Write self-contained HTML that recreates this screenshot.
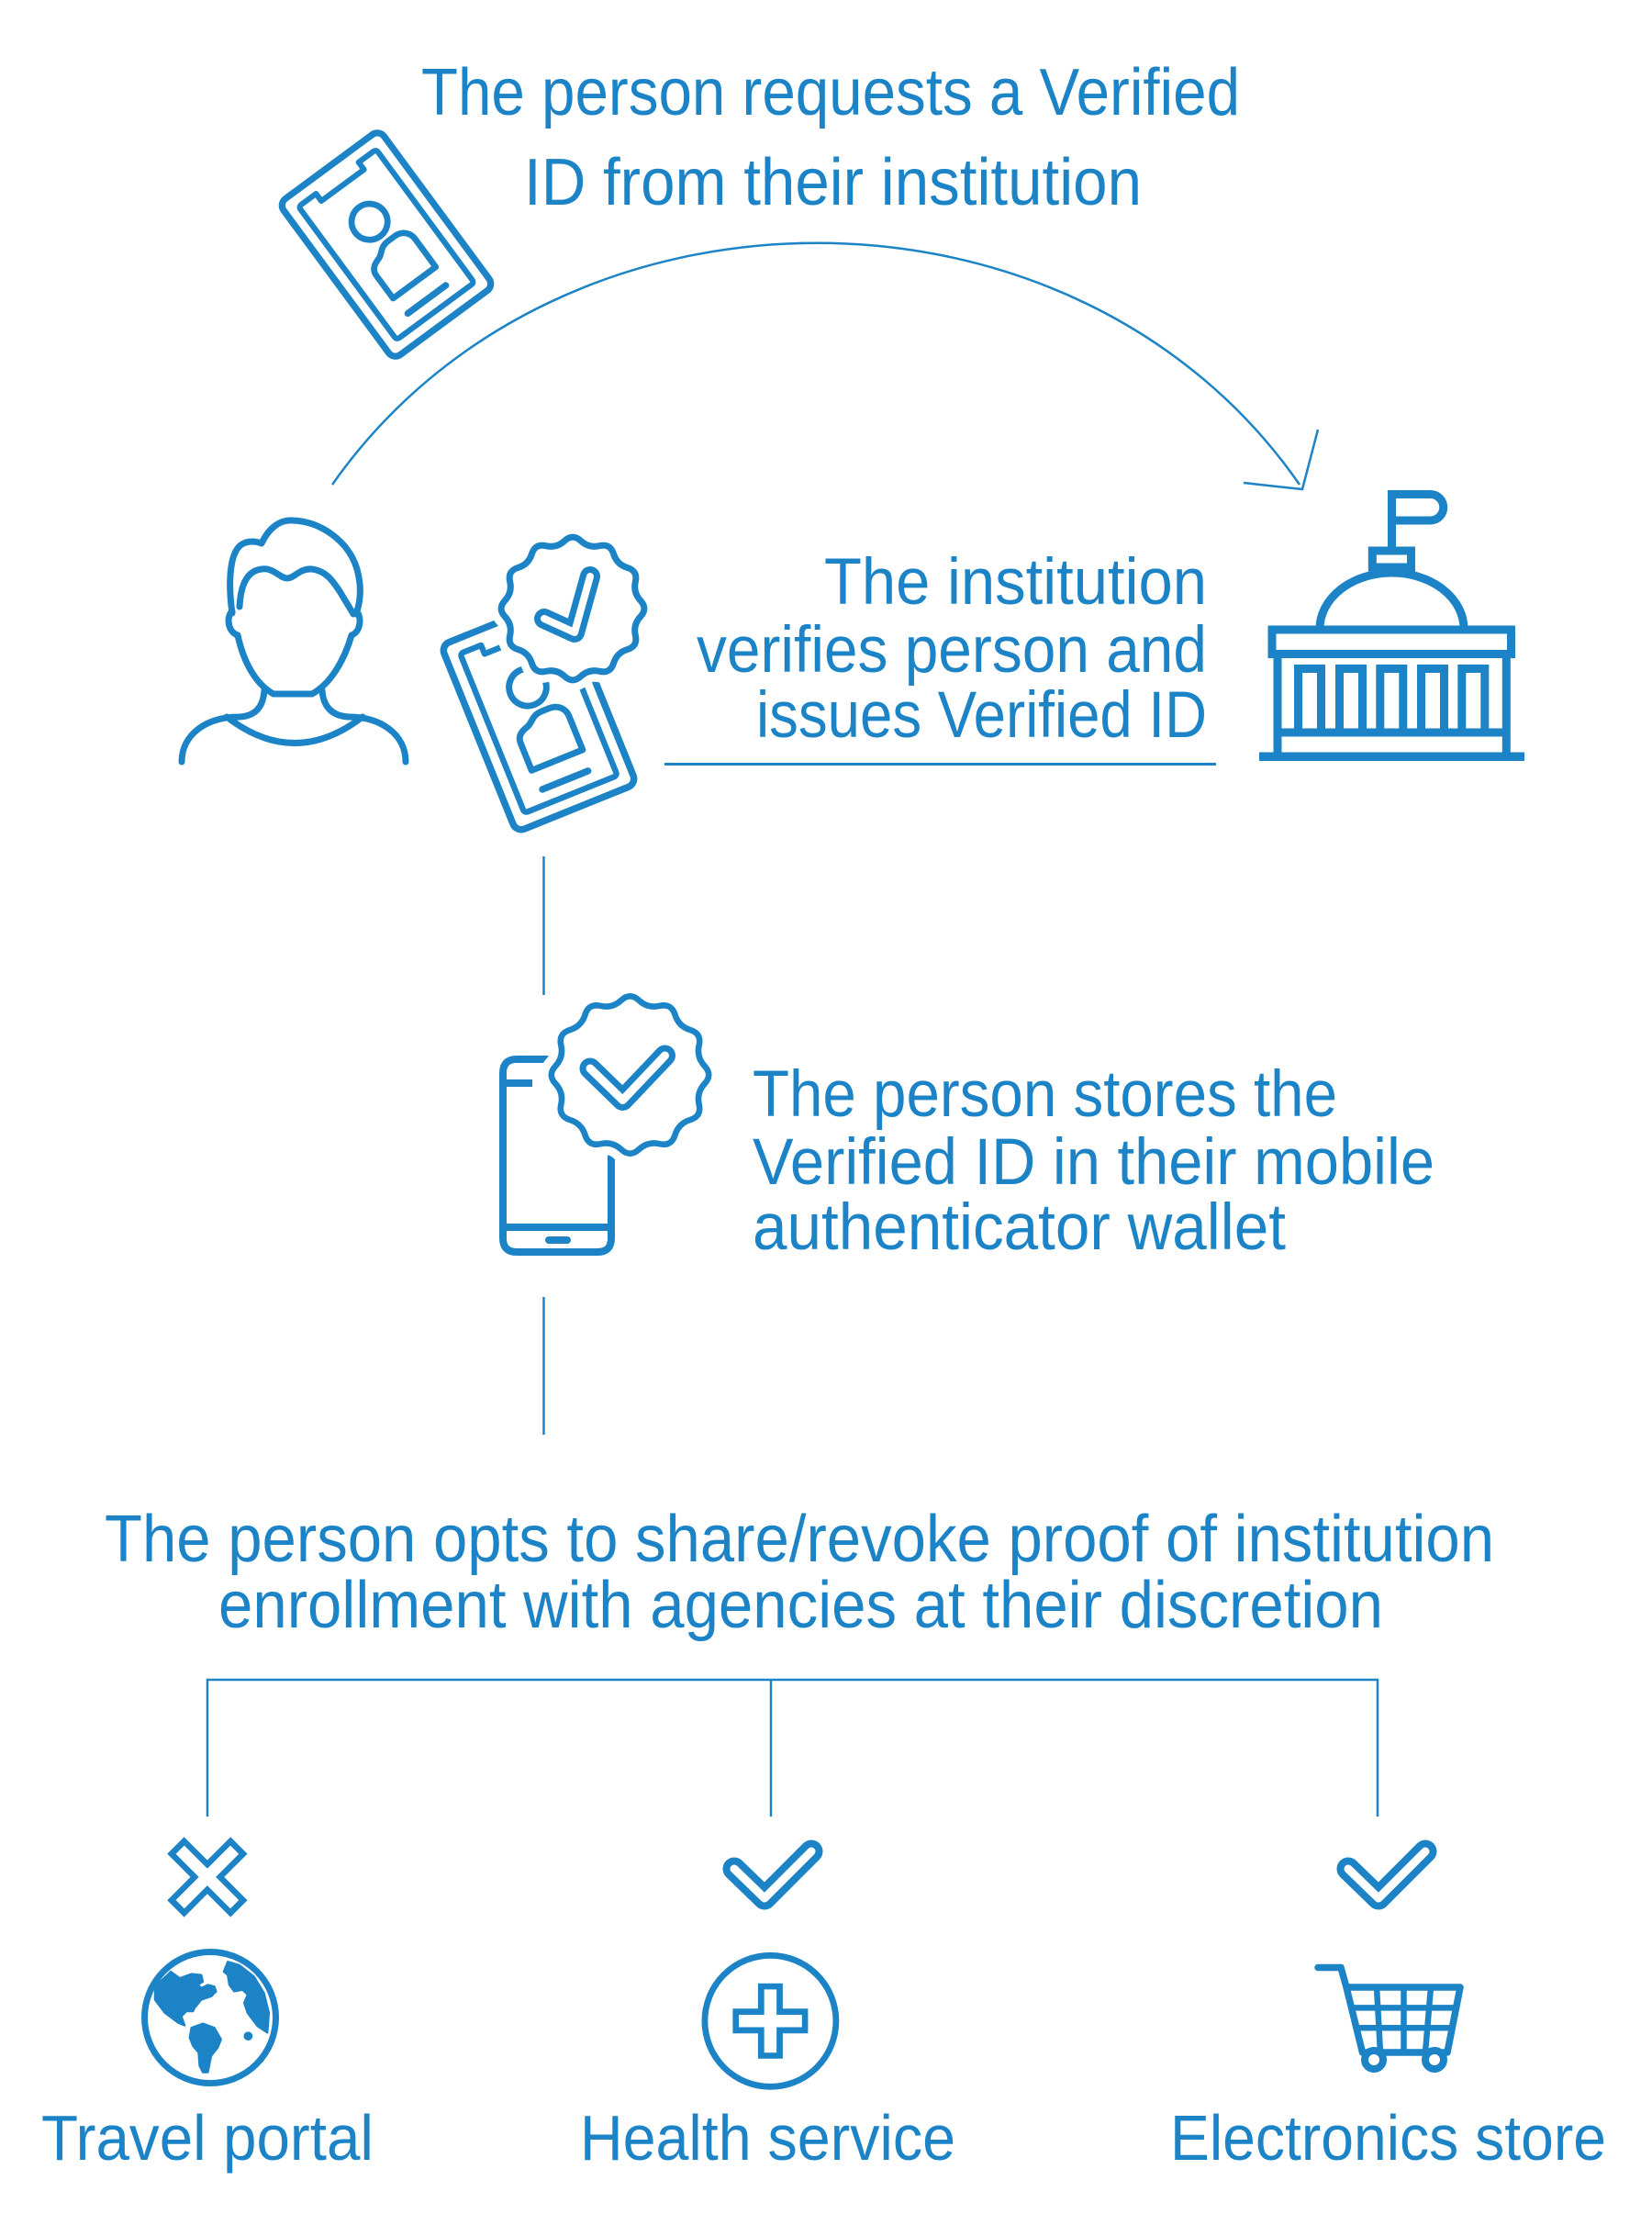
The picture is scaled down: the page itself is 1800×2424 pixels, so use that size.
<!DOCTYPE html>
<html><head><meta charset="utf-8"><style>
html,body{margin:0;padding:0;background:#fff;}
svg{display:block;}
text{font-family:"Liberation Sans",Arial,sans-serif;fill:#1c84c6;}
</style></head><body>
<svg xmlns="http://www.w3.org/2000/svg" width="1800" height="2424" viewBox="0 0 1800 2424">
<defs>
<path id="scal" d="M73.84,-8.8 Q82,0 73.84,8.8 Q65.68,17.6 68.35,29.3 Q71.01,41 59.55,44.54 Q48.08,48.08 44.54,59.55 Q41,71.01 29.3,68.35 Q17.6,65.68 8.8,73.84 Q0,82 -8.8,73.84 Q-17.6,65.68 -29.3,68.35 Q-41,71.01 -44.54,59.55 Q-48.08,48.08 -59.55,44.54 Q-71.01,41 -68.35,29.3 Q-65.68,17.6 -73.84,8.8 Q-82,0 -73.84,-8.8 Q-65.68,-17.6 -68.35,-29.3 Q-71.01,-41 -59.55,-44.54 Q-48.08,-48.08 -44.54,-59.55 Q-41,-71.01 -29.3,-68.35 Q-17.6,-65.68 -8.8,-73.84 Q0,-82 8.8,-73.84 Q17.6,-65.68 29.3,-68.35 Q41,-71.01 44.54,-59.55 Q48.08,-48.08 59.55,-44.54 Q71.01,-41 68.35,-29.3 Q65.68,-17.6 73.84,-8.8 Z"/>
<g id="card" fill="none" stroke="#1c84c6" stroke-linecap="round" stroke-linejoin="round">
  <rect x="-66" y="-102.5" width="132" height="205" rx="9" stroke-width="7"/>
  <path d="M-51,-83.5 Q-51,-87.5 -47,-87.5 H-28 V-78 H28 V-87.5 H47 Q51,-87.5 51,-83.5 V83.5 Q51,87.5 47,87.5 H-47 Q-51,87.5 -51,83.5 Z" stroke-width="6"/>
  <circle cx="0" cy="-30" r="19" stroke-width="6.5"/>
  <path d="M-28,50 V20 C-28,12 -22,9 -15,7 C-9,5 -7,-2 4,-2 H12 C22,-2 28,5 28,13 V50 Z" stroke-width="6.5"/>
  <path d="M-25,72 H25" stroke-width="7"/>
</g>
</defs>

<!-- Title -->
<text x="459" y="125" font-size="72" textLength="892" lengthAdjust="spacingAndGlyphs">The person requests a Verified</text>
<text x="571" y="223" font-size="72" textLength="673" lengthAdjust="spacingAndGlyphs">ID from their institution</text>

<!-- Card 1 -->
<use href="#card" transform="translate(421,266.5) rotate(-36.4) scale(1.03)"/>

<!-- Arc arrow -->
<path d="M362,528 C608,177 1173,177 1416,528" fill="none" stroke="#1c84c6" stroke-width="2.5"/>
<path d="M1355,526 L1419,533 L1436,468" fill="none" stroke="#1c84c6" stroke-width="2.5" stroke-linejoin="miter"/>

<!-- Person -->
<g fill="none" stroke="#1c84c6" stroke-width="7" stroke-linecap="round" stroke-linejoin="round">
  <path d="M253,668 C249,640 249,605 262,594 C270,588 280,590 285,592 C293,575 305,566 319,567 C350,568 380,590 389,620 C394,638 393,655 388,669"/>
  <path d="M261,661 C262,640 268,622 285,620 C298,618 305,630 313,630 C321,630 326,619 340,620 C355,622 362,632 370,644 L385,669"/>
  <path d="M253,666 C247,670 247,688 259,692 C265,720 278,745 298,756 H340 C360,745 375,720 383,692 C394,688 394,670 388,666"/>
  <path d="M288,752 C287,768 280,780 261,781 C225,781 198,800 198,830"/>
  <path d="M351,752 C352,768 360,780 380,781 C415,781 442,800 442,830"/>
  <path d="M247,781 Q321,838 395,781"/>
</g>

<!-- Card 2 with badge -->
<use href="#card" transform="translate(587,778.5) rotate(-22) scale(1.07)"/>
<g transform="translate(624,663)">
  <use href="#scal" fill="#fff" stroke="#fff" stroke-width="24"/>
  <use href="#scal" fill="none" stroke="#1c84c6" stroke-width="7"/>
</g>
<path d="M593,674 L626,689 L643,628" fill="none" stroke="#1c84c6" stroke-width="22" stroke-linecap="round" stroke-linejoin="round"/>
<path d="M593,674 L626,689 L643,628" fill="none" stroke="#fff" stroke-width="8" stroke-linecap="round" stroke-linejoin="round"/>

<!-- Institution text -->
<text x="898" y="658" font-size="71" textLength="417" lengthAdjust="spacingAndGlyphs">The institution</text>
<text x="759" y="732" font-size="71" textLength="556" lengthAdjust="spacingAndGlyphs">verifies person and</text>
<text x="824" y="803" font-size="71" textLength="491" lengthAdjust="spacingAndGlyphs">issues Verified ID</text>
<path d="M724,832.5 H1325" stroke="#1c84c6" stroke-width="3"/>

<!-- Building -->
<g fill="none" stroke="#1c84c6" stroke-width="9">
  <path d="M1516.5,598 V538.5 H1558.5 A14.25,14.25 0 0 1 1558.5,567 H1516.5"/>
  <rect x="1495.3" y="600" width="42.2" height="18"/>
  <path d="M1438,685 A78.5,61 0 0 1 1595,685"/>
  <rect x="1386" y="686" width="260.5" height="26.5"/>
  <path d="M1392,712 V824 M1641.3,712 V824"/>
  <path d="M1414.5,798 V728.5 H1439.5 V798 M1459.5,798 V728.5 H1484.5 V798 M1503.8,798 V728.5 H1528.8 V798 M1548.5,798 V728.5 H1573.5 V798 M1592.8,798 V728.5 H1617.8 V798"/>
  <path d="M1392,798 H1641"/>
</g>
<rect x="1372" y="819.5" width="289" height="9.5" fill="#1c84c6"/>

<!-- Connector 1 -->
<path d="M592.5,933 V1084" stroke="#1c84c6" stroke-width="2.5"/>

<!-- Phone with badge -->
<g fill="none" stroke="#1c84c6" stroke-width="8" stroke-linecap="round" stroke-linejoin="round">
  <path d="M600,1154 H563 Q548,1154 548,1169 V1349 Q548,1364 563,1364 H651 Q666,1364 666,1349 V1250"/>
  <path d="M548,1180 H580" stroke-linecap="butt"/>
  <path d="M548,1337 H666" stroke-linecap="butt"/>
  <path d="M598,1351 H618"/>
</g>
<g transform="translate(686.5,1171) scale(1.1)">
  <use href="#scal" fill="#fff" stroke="#fff" stroke-width="23"/>
  <use href="#scal" fill="none" stroke="#1c84c6" stroke-width="6"/>
</g>
<path d="M643,1164 L678.5,1198.5 L724.5,1150" fill="none" stroke="#1c84c6" stroke-width="23" stroke-linecap="round" stroke-linejoin="round"/>
<path d="M643,1164 L678.5,1198.5 L724.5,1150" fill="none" stroke="#fff" stroke-width="9" stroke-linecap="round" stroke-linejoin="round"/>

<!-- Stores text -->
<text x="820" y="1216" font-size="71" textLength="637" lengthAdjust="spacingAndGlyphs">The person stores the</text>
<text x="820" y="1290" font-size="71" textLength="743" lengthAdjust="spacingAndGlyphs">Verified ID in their mobile</text>
<text x="820" y="1361" font-size="71" textLength="581" lengthAdjust="spacingAndGlyphs">authenticator wallet</text>

<!-- Connector 2 -->
<path d="M592.5,1413 V1563" stroke="#1c84c6" stroke-width="2.5"/>

<!-- Bottom text -->
<text x="114" y="1701" font-size="72" textLength="1514" lengthAdjust="spacingAndGlyphs">The person opts to share/revoke proof of institution</text>
<text x="238" y="1773" font-size="72" textLength="1269" lengthAdjust="spacingAndGlyphs">enrollment with agencies at their discretion</text>

<!-- Bracket -->
<path d="M226,1979 V1830 H1501 V1979 M840,1830 V1979" fill="none" stroke="#1c84c6" stroke-width="2.5"/>

<!-- X mark -->
<g fill="none" stroke-linecap="butt">
  <path d="M191.4,2010.4 L260.4,2079.4 M260.4,2010.4 L191.4,2079.4" stroke="#1c84c6" stroke-width="26"/>
  <path d="M196.2,2015.2 L255.6,2074.6 M255.6,2015.2 L196.2,2074.6" stroke="#fff" stroke-width="13"/>
</g>

<!-- Checks -->
<g fill="none" stroke-linecap="round" stroke-linejoin="round">
  <path d="M800,2036 L833,2068 L884,2017" stroke="#1c84c6" stroke-width="25"/>
  <path d="M800,2036 L833,2068 L884,2017" stroke="#fff" stroke-width="9"/>
  <path d="M1469,2036 L1502,2068 L1553,2017" stroke="#1c84c6" stroke-width="25"/>
  <path d="M1469,2036 L1502,2068 L1553,2017" stroke="#fff" stroke-width="9"/>
</g>

<!-- Globe -->
<circle cx="229" cy="2198" r="71.5" fill="none" stroke="#1c84c6" stroke-width="7"/>
<g fill="#1c84c6" stroke="#1c84c6" stroke-width="2" stroke-linejoin="round" transform="translate(229,2198) scale(1.08) translate(-229,-2198)">
  <path d="M173.3,2166.7 L189.3,2151.7 L198.3,2158.3 L210,2154 L220,2155 L221.7,2161.7 L216.7,2165 L220,2168.3 L226.7,2165 L233.3,2166.7 L235,2171.7 L230,2176.7 L220,2180 L213.3,2188.3 L211.7,2191.7 L205,2191.7 L200,2196.7 L203.3,2206 L196.7,2203.3 L183.3,2193.3 L173.3,2180 Z"/>
  <path d="M210,2208.3 L221.7,2204 L233.3,2208.3 L240,2220 L236.7,2228.3 L230,2236.7 L226.7,2253.3 L221.7,2253.3 L218.3,2246.7 L217.3,2233.3 L211.7,2226.7 L208.3,2218.3 Z"/>
  <path d="M246.7,2141.7 L258.3,2145 L273.3,2156.7 L283.3,2173.3 L288.3,2193.3 L286.7,2213.3 L276.7,2206.7 L266.7,2193.3 L263.3,2183.3 L266.7,2175 L261.7,2170 L253.3,2171.7 L248.3,2165 L246.7,2155 L242.7,2151.7 Z"/>
  <circle cx="267.3" cy="2216.7" r="3.5"/>
</g>

<!-- Health -->
<circle cx="839.4" cy="2201.8" r="71.5" fill="none" stroke="#1c84c6" stroke-width="6.8"/>
<g fill="none" stroke-linecap="butt">
  <path d="M839.4,2160.8 V2242.8 M798.4,2201.8 H880.4" stroke="#1c84c6" stroke-width="27"/>
  <path d="M839.4,2167.4 V2236.2 M805,2201.8 H873.8" stroke="#fff" stroke-width="13.5"/>
</g>

<!-- Cart -->
<g fill="none" stroke="#1c84c6" stroke-linejoin="round" stroke-linecap="round">
  <path d="M1436,2143.5 H1461 L1467,2165 L1484.5,2236 H1577 L1591,2165 H1467" stroke-width="7.5"/>
  <path d="M1472.5,2187.4 H1586.6 M1477.9,2209.2 H1582.3" stroke-width="6.5"/>
  <path d="M1500,2165 L1504,2236 M1529.5,2165 V2236 M1559,2165 L1553,2236" stroke-width="6.5"/>
  <circle cx="1497" cy="2244" r="10" stroke-width="8" fill="#fff"/>
  <circle cx="1563" cy="2244" r="10" stroke-width="8" fill="#fff"/>
</g>

<!-- Labels -->
<text x="45" y="2353" font-size="70" textLength="362" lengthAdjust="spacingAndGlyphs">Travel portal</text>
<text x="632" y="2353" font-size="70" textLength="409" lengthAdjust="spacingAndGlyphs">Health service</text>
<text x="1275" y="2353" font-size="70" textLength="475" lengthAdjust="spacingAndGlyphs">Electronics store</text>
</svg>
</body></html>
